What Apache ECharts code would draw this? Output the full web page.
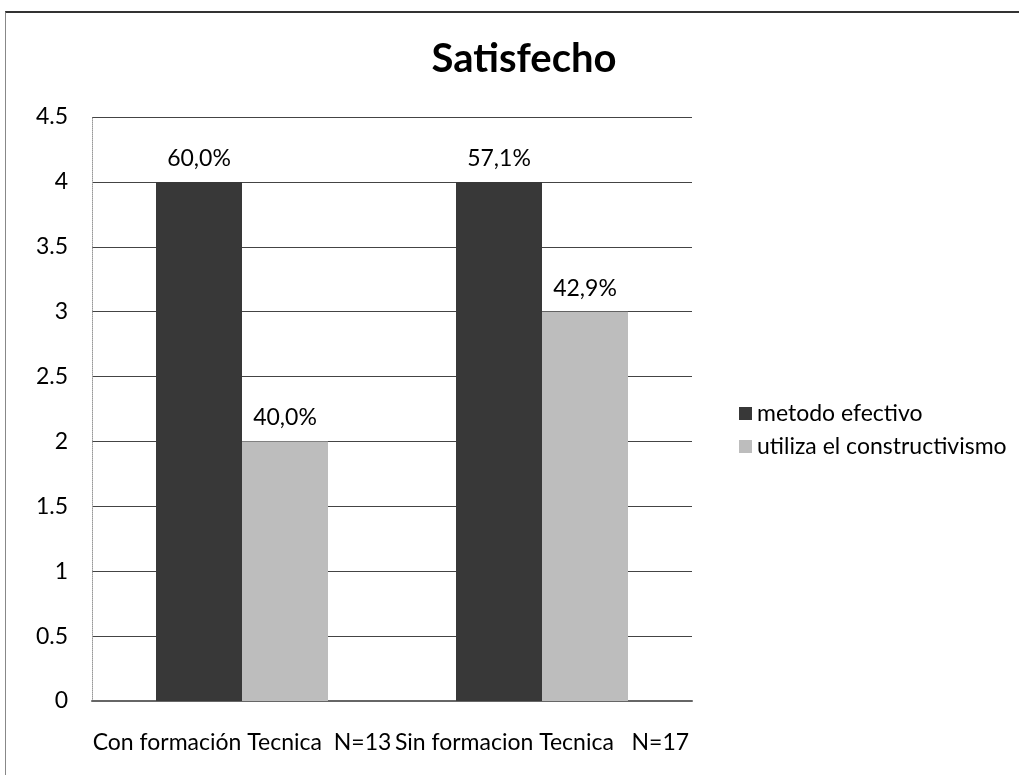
<!DOCTYPE html>
<html>
<head>
<meta charset="utf-8">
<title>Satisfecho</title>
<script src="https://cdn.jsdelivr.net/npm/echarts@6/dist/echarts.min.js"></script>
<style>
  html, body { margin: 0; padding: 0; background: #fff; }
  #frame { position: absolute; left: 5px; top: 11px; width: 1020px; height: 770px;
           border-top: 2px solid #333; border-left: 1px solid #888; }
  #main { position: absolute; left: 0; top: 0; width: 1019px; height: 775px; }
</style>
</head>
<body>
<div id="frame"></div>
<div id="main"></div>
<script>
  var categories = ['Con formación Tecnica  N=13', 'Sin formacion Tecnica   N=17'];
  var metodoEfectivo = [4, 4];
  var metodoLabels = ['60,0%', '57,1%'];
  var constructivismo = [2, 3];
  var constructivismoLabels = ['40,0%', '42,9%'];

  var chart = echarts.init(document.getElementById('main'));
  var font = 'Lato, "Open Sans", sans-serif';

  function withLabels(vals, labels) {
    return vals.map(function (v, i) { return { value: v, labelText: labels[i] }; });
  }

  chart.setOption({
    animation: false,
    title: {
      text: 'Satisfecho',
      left: 519, top: 34, textAlign: 'center',
      textStyle: { fontFamily: font, fontSize: 40, fontWeight: 'bold', color: '#000' }
    },
    legend: {
      orient: 'vertical', left: 734, top: 397, itemGap: 10,
      itemWidth: 13, itemHeight: 13, icon: 'rect',
      textStyle: { fontFamily: font, fontSize: 23, color: '#000' },
      data: ['metodo efectivo', 'utiliza el constructivismo']
    },
    grid: { left: 92, right: 327, top: 117, bottom: 74, containLabel: false },
    xAxis: {
      type: 'category', data: categories,
      axisLine: { lineStyle: { color: '#666', width: 2 } },
      axisTick: { show: false },
      axisLabel: { fontFamily: font, fontSize: 23, color: '#000', margin: 30, interval: 0 }
    },
    yAxis: {
      type: 'value', min: 0, max: 4.5, interval: 0.5,
      axisLine: { show: true, lineStyle: { color: '#999', type: 'dotted' } },
      axisTick: { show: false },
      splitLine: { lineStyle: { color: '#444', width: 1 } },
      axisLabel: { fontFamily: font, fontSize: 23, color: '#000', margin: 24 }
    },
    series: [{
      name: 'metodo efectivo', type: 'bar', barWidth: 86, barGap: '0%',
      itemStyle: { color: '#383838' },
      label: { show: true, position: 'top', distance: 12, fontFamily: font, fontSize: 23, color: '#000',
               formatter: function (p) { return p.data.labelText; } },
      data: withLabels(metodoEfectivo, metodoLabels)
    }, {
      name: 'utiliza el constructivismo', type: 'bar', barWidth: 86, barGap: '0%',
      itemStyle: { color: '#bdbdbd' },
      label: { show: true, position: 'top', distance: 12, fontFamily: font, fontSize: 23, color: '#000',
               formatter: function (p) { return p.data.labelText; } },
      data: withLabels(constructivismo, constructivismoLabels)
    }]
  });
</script>
</body>
</html>
